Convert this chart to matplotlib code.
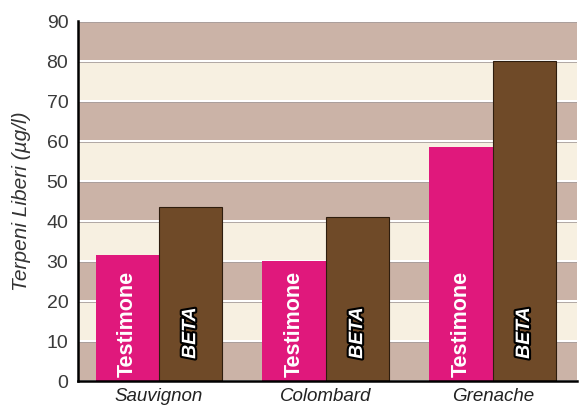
import numpy as np
import matplotlib
matplotlib.use("Agg")
import matplotlib.pyplot as plt
import matplotlib.patheffects as pe

# dati
varieta = ["Sauvignon", "Colombard", "Grenache"]
testimone = [31.5, 30.0, 58.5]
beta = [43.5, 41.0, 80.0]
yticks = [0, 10, 20, 30, 40, 50, 60, 70, 80, 90]

plt.rcParams["font.family"] = ["Liberation Sans", "DejaVu Sans"]

fig = plt.figure(figsize=(5.8, 4.08), dpi=100)
ax = fig.add_axes([0.1345, 0.066, 0.8605, 0.8824])
ax.set_facecolor("white")

# fasce orizzontali alternate
tan = "#cbb3a7"
crema = "#f7f0e1"
for k in range(9):
    col = tan if k % 2 == 0 else crema
    ax.axhspan(k * 10 + 0.25, (k + 1) * 10 - 0.25, color=col, lw=0, zorder=0)
    ax.axhline((k + 1) * 10 - 0.15, color="#a59c9a", lw=0.6, zorder=0.5)

x = np.arange(len(varieta))
w = 0.38
ax.bar(x - w / 2, testimone, w, color="#e0187c", lw=0, zorder=2)
ax.bar(x + w / 2, beta, w, color="#6f4a28", edgecolor="#2e1d0e", lw=0.8, zorder=2)

for i in range(len(varieta)):
    ax.text(x[i] - w / 2, 1.0, "Testimone", rotation=90, ha="center", va="bottom",
            color="white", fontsize=15.5, fontweight="bold", zorder=3)
    ax.text(x[i] + w / 2, 12.0, "BETA", rotation=90, ha="center", va="center",
            color="white", fontsize=14, fontweight="bold", fontstyle="italic", zorder=3,
            path_effects=[pe.withStroke(linewidth=3, foreground="black")])

ax.set_xlim(-0.485, 2.505)
ax.set_ylim(0, 90)
ax.set_yticks(yticks)
ax.set_xticks(x)
ax.set_xticklabels(varieta, fontstyle="italic", fontsize=13.5, color="#222222")
ax.tick_params(axis="y", length=0, pad=7, labelsize=14, labelcolor="#3a3a3a")
ax.tick_params(axis="x", length=0, pad=5)

ax.set_ylabel("Terpeni Liberi (µg/l)", fontstyle="italic", fontsize=15, color="#333333",
              labelpad=11)

for s in ["top", "right"]:
    ax.spines[s].set_visible(False)
ax.spines["left"].set_linewidth(1.8)
ax.spines["bottom"].set_linewidth(1.8)

fig.savefig("out.png", dpi=100)
